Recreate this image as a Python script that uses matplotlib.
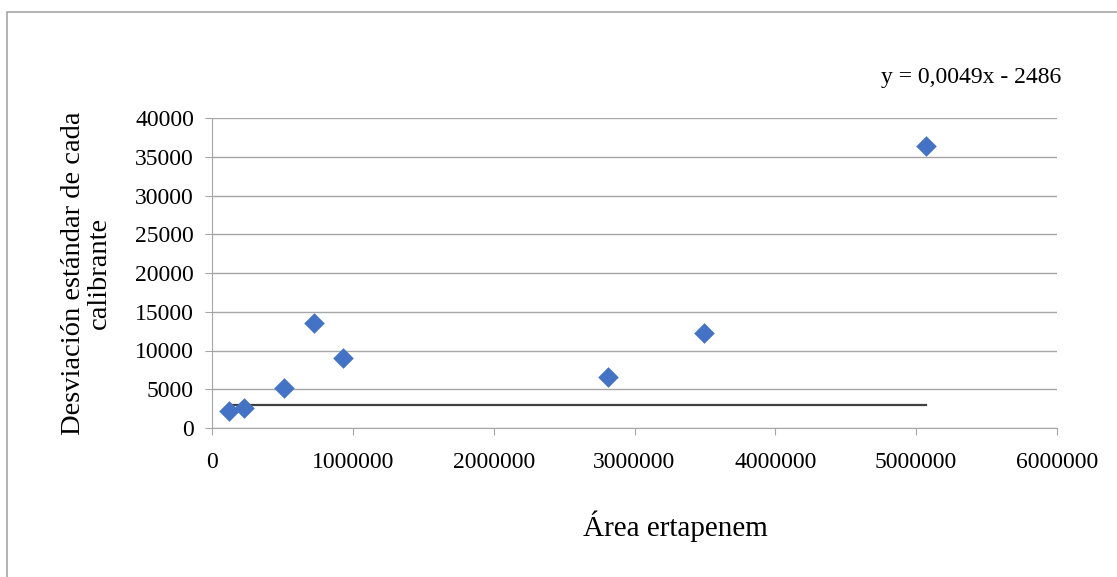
import matplotlib
matplotlib.use("Agg")
import matplotlib.pyplot as plt
from matplotlib.patches import Rectangle

area = [120000, 227000, 511000, 724000, 930000, 2812000, 3494000, 5071000]
desv = [2200, 2580, 5160, 13550, 9030, 6580, 12260, 36390]
trend_x = [120000, 5071000]
trend_y = [2970, 2970]
xticks = [0, 1000000, 2000000, 3000000, 4000000, 5000000, 6000000]
yticks = [0, 5000, 10000, 15000, 20000, 25000, 30000, 35000, 40000]

plt.rcParams['font.family'] = ['Liberation Serif', 'DejaVu Serif']

fig = plt.figure(figsize=(11.17, 5.77), dpi=100)
fig.patches.append(Rectangle((6.5/1117, -0.05), 1.2, 1.05 - 12/577, transform=fig.transFigure,
                             fill=False, edgecolor='#a6a6a6', linewidth=1.2))
ax = fig.add_axes([212/1117, (577-428)/577, (1057-212)/1117, (428-118)/577])

ax.plot(trend_x, trend_y, color='#404040', linewidth=1.6, zorder=2)
ax.scatter(area, desv, marker='D', s=110, color='#4472c4', zorder=3, linewidths=0)

ax.set_xlim(0, 6000000)
ax.set_ylim(0, 40000)
ax.set_xticks(xticks)
ax.set_yticks(yticks)
ax.set_xticklabels([str(v) for v in xticks], fontsize=17)
ax.set_yticklabels([str(v) for v in yticks], fontsize=17)
ax.yaxis.grid(True, color='#a6a6a6', linewidth=1.0)
ax.set_axisbelow(True)
for s in ['top', 'right']:
    ax.spines[s].set_visible(False)
for s in ['left', 'bottom']:
    ax.spines[s].set_color('#a6a6a6')
ax.tick_params(axis='both', colors='#a6a6a6', labelcolor='black', length=5, direction='out')
ax.tick_params(axis='x', pad=12)
ax.tick_params(axis='y', pad=8)

fig.text(675/1117, 1 - 526/577, 'Área ertapenem', fontsize=21, ha='center', va='center')
fig.text(86/1117, 1 - 273/577, 'Desviación estándar de cada\ncalibrante', fontsize=20.5,
         ha='center', va='center', rotation=90, multialignment='center', linespacing=1.05)
fig.text(971/1117, 1 - 78/577, 'y = 0,0049x - 2486', fontsize=17, ha='center', va='center')

fig.savefig('out.png', dpi=100)
